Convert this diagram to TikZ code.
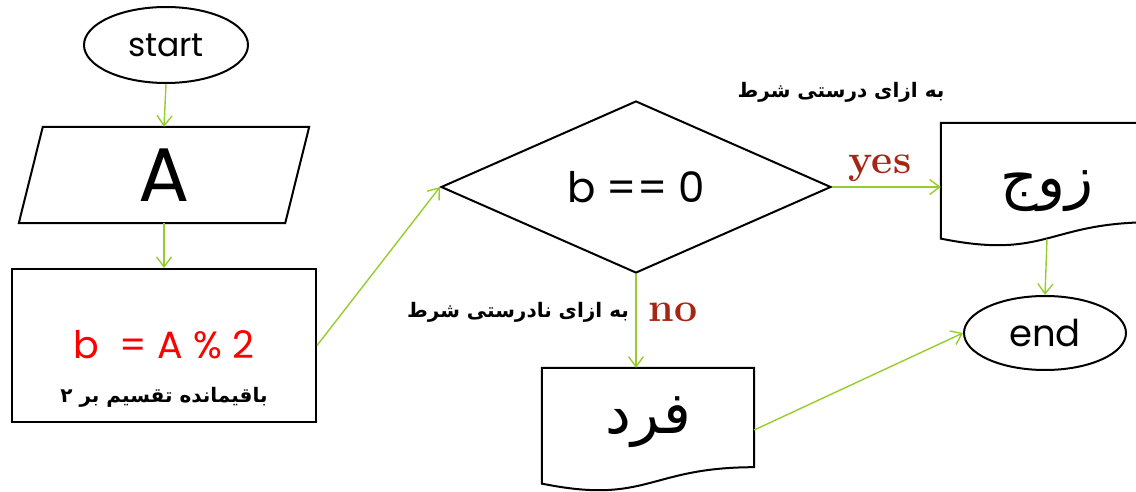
\documentclass[tikz,border=0pt]{standalone}
\usepackage{fontspec}
\usetikzlibrary{shapes.geometric,arrows.meta,calc}
\TeXXeTstate=1
\newfontfamily\gothic{Poppins}
\newfontfamily\fa[Script=Arabic]{DejaVu Sans}
\definecolor{linkgreen}{RGB}{150,205,45}
\definecolor{lbl}{RGB}{165,38,20}
\newcommand{\drawdoc}[1]{\draw[outline] (#1.north west) -- (#1.north east) -- ($(#1.north east)+(0,99.4)$) .. controls ($(#1.north)+(0,99.4)$) and ($(#1.north)+(0,137.3)$) .. ($(#1.north west)+(0,115.8)$) -- cycle;}
\begin{document}
\begin{tikzpicture}[x=1pt,y=-1pt,
  outline/.style={draw=black, line width=2pt},
  link/.style={draw=linkgreen, line width=1.4pt, -{Straight Barb[length=10pt,width=15pt]}},
  term/.style={ellipse, outline, inner sep=0pt},
  docbox/.style={minimum width=212pt, minimum height=124pt, inner sep=0pt},
  fatext/.style={font=\fa\bfseries\fontsize{20}{24}\selectfont},
  fabig/.style={font=\fa\fontsize{58}{64}\selectfont},
  yn/.style={font=\bfseries\fontsize{41}{46}\selectfont, text=lbl, anchor=base}]
\useasboundingbox (0,0) rectangle (1136,492);
\clip (0,0) rectangle (1136,492);
% start
\node[term, minimum width=164pt, minimum height=76pt, font=\gothic\fontsize{33}{38}\selectfont] (start) at (166,45) {start};
% input A
\node[minimum width=242pt, minimum height=96pt, inner sep=0pt, font=\gothic\fontsize{76}{80}\selectfont] (A) at (164,175) {A};
\draw[outline] (A.north west) -- ($(A.north east)+(24,0)$) -- (A.south east) -- ($(A.south west)+(-24,0)$) -- cycle;
% process box
\node[outline, minimum width=304pt, minimum height=153pt, inner sep=0pt] (box) at (164,345.5) {};
\node[text=red, font=\gothic\fontsize{38}{42}\selectfont] (eq) at (164,345) {b\ \ = A \% 2};
\node[fatext] (rem) at (164,397) {\beginR باقیمانده تقسیم بر ۲\endR};
% decision
\node[diamond, outline, minimum width=390pt, minimum height=172pt, inner sep=0pt, font=\gothic\fontsize{42}{48}\selectfont] (dia) at (636,187) {b == 0};
% documents
\node[docbox] (zoj) at (1047,185) {};
\drawdoc{zoj}
\node[fabig] (zojt) at (1047,191) {\beginR زوج\endR};
\node[docbox] (fard) at (648,430) {};
\drawdoc{fard}
\node[fabig] (fardt) at (648,422) {\beginR فرد\endR};
% end
\node[term, minimum width=162pt, minimum height=74pt, font=\gothic\fontsize{37}{42}\selectfont] (end) at (1045,333) {end};
% labels
\node[fatext] (ttrue) at (841,92) {\beginR به ازای درستی شرط\endR};
\node[fatext] (tfalse) at (518,312) {\beginR به ازای نادرستی شرط\endR};
\node[yn] (yes) at (880,174) {yes};
\node[yn] (no) at (673,321) {no};
% connectors
\draw[link] (start.south) -- (A.north);
\draw[link] (A.south) -- (box.north);
\draw[link] (box.east) -- (dia.west);
\draw[link] (dia.east) -- (dia.east -| zoj.west);
\draw[link] (dia.south) -- (dia.south |- fard.north);
\draw[link] (fard.east) -- (end.west);
\draw[link] ($(zoj.north)+(0,116)$) -- (end.north);
\end{tikzpicture}
\end{document}
